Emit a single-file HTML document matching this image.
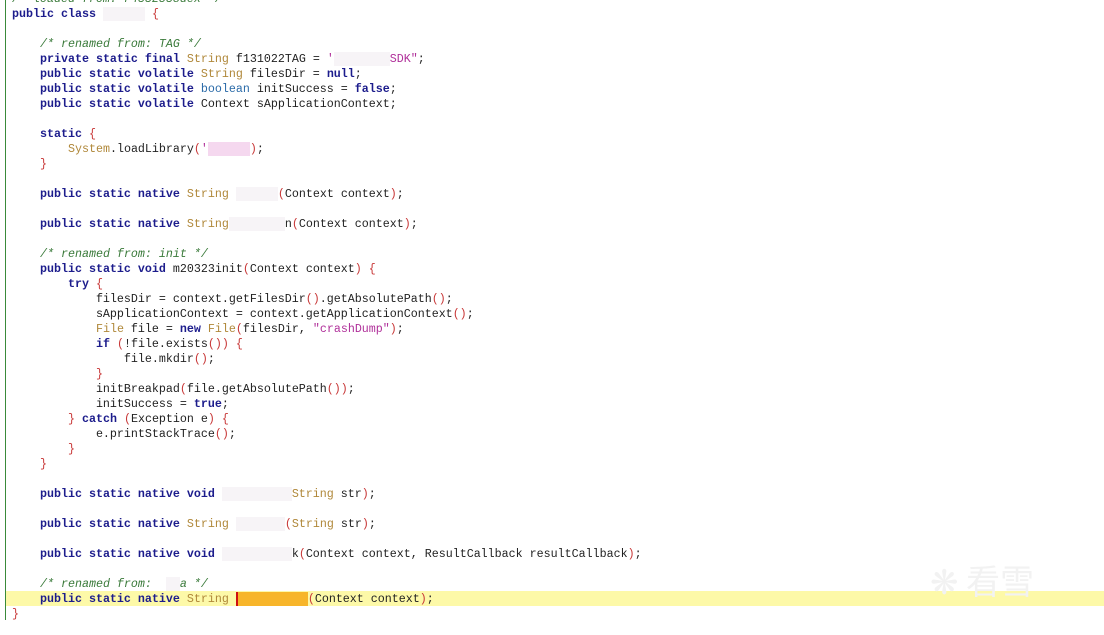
<!DOCTYPE html>
<html><head><meta charset="utf-8"><style>
html,body{margin:0;padding:0;background:#fff;width:1104px;height:635px;overflow:hidden;position:relative}
#gl{position:absolute;left:5px;top:0;width:1px;height:620px;background:#3a8a3a}
#hl{position:absolute;left:6px;top:591px;width:1098px;height:15px;background:#fdf9a8}
pre{position:absolute;left:12px;top:-8px;margin:0;font-family:"Liberation Mono",monospace;font-size:11.67px;line-height:15px;color:#222}
.k{color:#1c1c8c;font-weight:bold}
.t{color:#b0883a}
.p{color:#c83838}
.c{color:#3a7a3a;font-style:italic}
.s{color:#b0309a}
.b{background:#f7f4f7;color:transparent}
.pk{background:#f5d8ef;color:transparent}
.o{background:#f7b52a;color:transparent}
.cur{border-left:2px solid #d01010}
#wm{position:absolute;left:930px;top:555px;font-family:"Noto Sans CJK SC",sans-serif;font-size:34px;color:#f2f2f2}
</style></head><body>
<div id="gl"></div><div id="hl"></div>
<pre><span class="c">/* loaded from: r4332538dex */</span>
<span class="k">public class</span> <span class="b">      </span> <span class="p">{</span>

    <span class="c">/* renamed from: TAG */</span>
    <span class="k">private static final</span> <span class="t">String</span> f131022TAG = <span class="s">'<span class="b">        </span>SDK"</span>;
    <span class="k">public static volatile</span> <span class="t">String</span> filesDir = <span class="k">null</span>;
    <span class="k">public static volatile</span> <span style="color:#2a6aa8">boolean</span> initSuccess = <span class="k">false</span>;
    <span class="k">public static volatile</span> Context sApplicationContext;

    <span class="k">static</span> <span class="p">{</span>
        <span class="t">System</span>.loadLibrary<span class="p">(</span><span class="s">'</span><span class="pk">      </span><span class="p">)</span>;
    <span class="p">}</span>

    <span class="k">public static native</span> <span class="t">String</span> <span class="b">      </span><span class="p">(</span>Context context<span class="p">)</span>;

    <span class="k">public static native</span> <span class="t">String</span><span class="b">        </span>n<span class="p">(</span>Context context<span class="p">)</span>;

    <span class="c">/* renamed from: init */</span>
    <span class="k">public static void</span> m20323init<span class="p">(</span>Context context<span class="p">) {</span>
        <span class="k">try</span> <span class="p">{</span>
            filesDir = context.getFilesDir<span class="p">()</span>.getAbsolutePath<span class="p">()</span>;
            sApplicationContext = context.getApplicationContext<span class="p">()</span>;
            <span class="t">File</span> file = <span class="k">new</span> <span class="t">File</span><span class="p">(</span>filesDir, <span class="s">"crashDump"</span><span class="p">)</span>;
            <span class="k">if</span> <span class="p">(</span>!file.exists<span class="p">()) {</span>
                file.mkdir<span class="p">()</span>;
            <span class="p">}</span>
            initBreakpad<span class="p">(</span>file.getAbsolutePath<span class="p">())</span>;
            initSuccess = <span class="k">true</span>;
        <span class="p">}</span> <span class="k">catch</span> <span class="p">(</span>Exception e<span class="p">) {</span>
            e.printStackTrace<span class="p">()</span>;
        <span class="p">}</span>
    <span class="p">}</span>

    <span class="k">public static native void</span> <span class="b">          </span><span class="t">String</span> str<span class="p">)</span>;

    <span class="k">public static native</span> <span class="t">String</span> <span class="b">       </span><span class="p">(</span><span class="t">String</span> str<span class="p">)</span>;

    <span class="k">public static native void</span> <span class="b">          </span>k<span class="p">(</span>Context context, ResultCallback resultCallback<span class="p">)</span>;

    <span class="c">/* renamed from:  <span class="b">  </span>a */</span>
    <span class="k">public static native</span> <span class="t">String</span> <span class="cur"></span><span class="o">          </span><span class="p">(</span>Context context<span class="p">)</span>;
<span class="p">}</span></pre>
<div id="wm">❋ 看雪</div>
</body></html>
